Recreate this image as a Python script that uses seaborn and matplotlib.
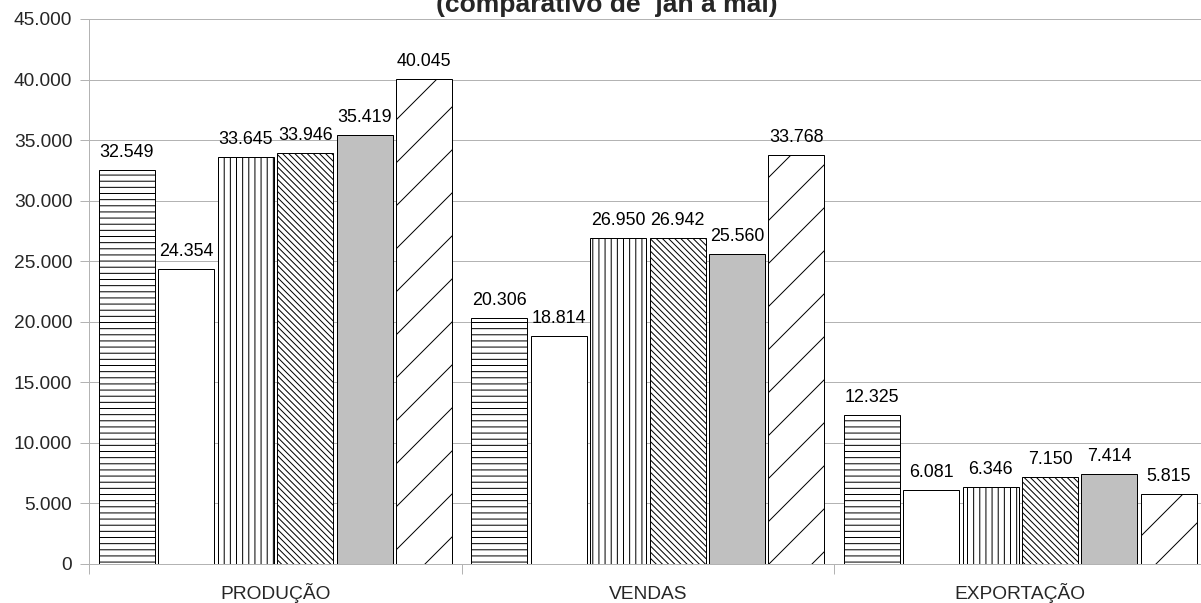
import matplotlib
matplotlib.use("Agg")
import matplotlib.pyplot as plt
import seaborn as sns
import pandas as pd

categories = ["PRODUÇÃO", "VENDAS", "EXPORTAÇÃO"]
series = ["S1", "S2", "S3", "S4", "S5", "S6"]
values = {
    "S1": [32549, 20306, 12325],
    "S2": [24354, 18814, 6081],
    "S3": [33645, 26950, 6346],
    "S4": [33946, 26942, 7150],
    "S5": [35419, 25560, 7414],
    "S6": [40045, 33768, 5815],
}
fills = ["white", "white", "white", "white", "#c0c0c0", "white"]
hatches = ["-" * 7, "", "|" * 7, "\\" * 14, "", "//"]
yticks = [0, 5000, 10000, 15000, 20000, 25000, 30000, 35000, 40000, 45000]
title = "(comparativo de  jan a mai)"

def fmt(v):
    return f"{v:,.0f}".replace(",", ".")

rows = []
for s in series:
    for c, v in zip(categories, values[s]):
        rows.append({"cat": c, "serie": s, "val": v})
df = pd.DataFrame(rows)

DPI = 258
PX = 72.0 / DPI  # points per pixel

sns.set_style("white")
plt.rcParams["font.family"] = ["Liberation Sans", "DejaVu Sans"]
plt.rcParams["hatch.linewidth"] = 1.0 * PX

fig = plt.figure(figsize=(1201 / DPI, 603 / DPI), dpi=DPI)
ax = fig.add_axes([89.3 / 1201, (603 - 564) / 603, 1117.2 / 1201, 545 / 603])

sns.barplot(data=df, x="cat", y="val", hue="serie", order=categories,
            hue_order=series, palette=dict(zip(series, fills)),
            width=0.957, gap=0.056, edgecolor="black", linewidth=1.0 * PX,
            saturation=1, legend=False, ax=ax, zorder=3)

for i, cont in enumerate(ax.containers):
    for p in cont:
        p.set_hatch(hatches[i])
        p.set_facecolor(fills[i])
        p.set_edgecolor("black")
    ax.bar_label(cont, labels=[fmt(v) for v in values[series[i]]],
                 padding=9 * PX, fontsize=5.0, color="black")

ax.set_xlim(-0.5, 2.5)
ax.set_ylim(0, 45000)
ax.set_yticks(yticks)
ax.set_yticklabels([fmt(v) for v in yticks])
ax.set_xticks(range(len(categories)))
ax.set_xticklabels(categories, va="baseline")
ax.set_xticks([-0.5, 0.5, 1.5, 2.5], minor=True)
ax.set_xlabel("")
ax.set_ylabel("")

grey = "#b3b3b3"
ax.yaxis.grid(True, color=grey, linewidth=1.0 * PX, zorder=0)
ax.xaxis.grid(False)
ax.set_axisbelow(True)
for side in ["top", "right"]:
    ax.spines[side].set_visible(False)
for side in ["left", "bottom"]:
    ax.spines[side].set_color(grey)
    ax.spines[side].set_linewidth(1.0 * PX)

ax.tick_params(axis="y", which="major", length=9 * PX, width=1.0 * PX,
               color=grey, pad=8 * PX, labelsize=5.35, left=True)
ax.tick_params(axis="x", which="major", length=0, pad=35 * PX, labelsize=5.35,
               bottom=True)
ax.tick_params(axis="x", which="minor", length=10 * PX, width=1.0 * PX,
               color=grey, bottom=True)

fig.text(607 / 1201, 1 - 12 / 603, title, ha="center", va="baseline",
         fontsize=7.4, fontweight="bold")

fig.savefig("out.png", dpi=DPI)
